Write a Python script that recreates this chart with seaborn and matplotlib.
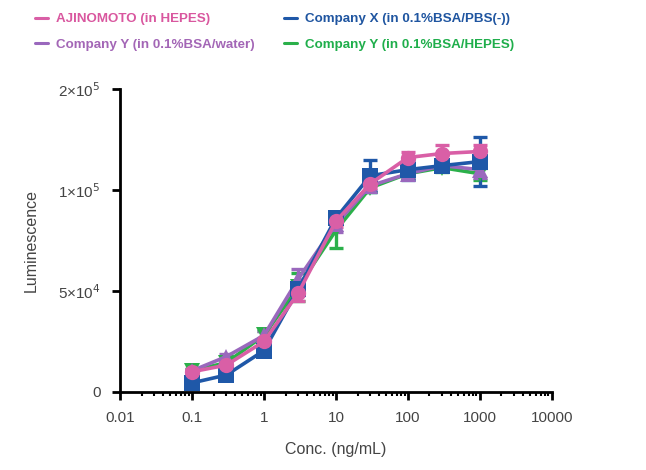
import matplotlib
matplotlib.use("Agg")
import matplotlib.pyplot as plt
from matplotlib.lines import Line2D
import numpy as np
import pandas as pd
import seaborn as sns

# ─── Data ────────────────────────────────────────────────────────────────────
conc = [0.1, 0.3, 1, 3, 10, 30, 100, 300, 1000]

ajinomoto       = [10.0e3, 13.3e3, 25.0e3, 49.0e3, 84.5e3, 103.0e3, 116.0e3, 118.0e3, 119.0e3]
ajinomoto_sd    = [1.0e3, 1.0e3, 1.5e3, 4.0e3, 3.0e3, 2.0e3, 2.5e3, 4.0e3, 3.0e3]
company_x       = [4.5e3, 8.4e3, 20.5e3, 51.0e3, 86.0e3, 107.0e3, 110.0e3, 112.0e3, 114.0e3]
company_x_sd    = [1.0e3, 1.0e3, 1.5e3, 3.0e3, 3.0e3, 8.0e3, 5.0e3, 2.0e3, 12.0e3]
company_y_water = [10.5e3, 17.5e3, 28.0e3, 56.0e3, 83.0e3, 102.0e3, 108.0e3, 112.0e3, 110.0e3]
company_y_water_sd = [1.0e3, 1.5e3, 2.0e3, 5.0e3, 4.0e3, 2.0e3, 2.5e3, 2.0e3, 4.0e3]
company_y_hepes = [10.5e3, 14.5e3, 28.0e3, 52.0e3, 80.0e3, 101.0e3, 108.0e3, 111.0e3, 108.0e3]
company_y_hepes_sd = [1.0e3, 1.0e3, 2.0e3, 7.0e3, 9.0e3, 2.0e3, 2.0e3, 2.0e3, 3.0e3]

labels = ["AJINOMOTO (in HEPES)", "Company Y (in 0.1%BSA/water)",
          "Company X (in 0.1%BSA/PBS(-))", "Company Y (in 0.1%BSA/HEPES)"]
y_ticks = [0, 5e4, 1e5, 1.5e5]
y_ticklabels = ["0", "5×10$^4$", "1×10$^5$", "2×10$^5$"]
x_ticks = [0.01, 0.1, 1, 10, 100, 1000, 10000]
x_ticklabels = ["0.01", "0.1", "1", "10", "100", "1000", "10000"]

# ─── Styles ──────────────────────────────────────────────────────────────────
series = {
    labels[3]: (company_y_hepes, company_y_hepes_sd, "#2bb04a", "v", "#1fae4b"),
    labels[1]: (company_y_water, company_y_water_sd, "#9a68bd", "^", "#a366b6"),
    labels[2]: (company_x, company_x_sd, "#1f58a8", "s", "#1f55a0"),
    labels[0]: (ajinomoto, ajinomoto_sd, "#d95fa6", "o", "#d9579f"),
}

rows = []
for name, (vals, sds, *_ ) in series.items():
    for c, v, s in zip(conc, vals, sds):
        rows.append({"conc": c, "lum": v, "sd": s, "sample": name})
df = pd.DataFrame(rows)

sns.set_theme(style="ticks")
plt.rcParams["font.family"] = ["Liberation Sans", "DejaVu Sans"]

fig = plt.figure(figsize=(6.46, 4.70), dpi=100)
ax = fig.add_axes([0.186, 0.166, 0.668, 0.645])

for name, (vals, sds, color, marker, _) in series.items():
    sub = df[df["sample"] == name]
    ax.errorbar(sub["conc"], sub["lum"], yerr=sub["sd"], fmt="none",
                ecolor=color, elinewidth=2.4, capsize=5, capthick=2.4, zorder=2)
    sns.lineplot(data=sub, x="conc", y="lum", ax=ax, color=color,
                 marker=marker, markersize=11, markeredgewidth=0,
                 linewidth=2.6, errorbar=None, zorder=3)

ax.set_xscale("log")
ax.set_xlim(0.01, 10000)
ax.set_ylim(0, 1.5e5)
ax.set_xticks(x_ticks)
ax.set_xticklabels(x_ticklabels)
ax.set_yticks(y_ticks)
ax.set_yticklabels(y_ticklabels)
ax.xaxis.set_minor_locator(matplotlib.ticker.LogLocator(base=10, subs=np.arange(2, 10)))
ax.xaxis.set_minor_formatter(matplotlib.ticker.NullFormatter())

sns.despine(ax=ax)
for side in ["left", "bottom"]:
    ax.spines[side].set_linewidth(2.0)
    ax.spines[side].set_color("black")
ax.tick_params(axis="both", which="major", length=6, width=2.0, color="black",
               labelsize=11, labelcolor="#444444", pad=8)
ax.tick_params(axis="x", which="minor", length=3, width=1.5, color="black")

ax.set_xlabel("Conc. (ng/mL)", fontsize=11.5, color="#444444", labelpad=12)
ax.set_ylabel("Luminescence", fontsize=11.5, color="#444444", labelpad=14)

# ─── Legend ──────────────────────────────────────────────────────────────────
handles = [Line2D([], [], color=series[l][2], linewidth=2.2) for l in labels]
leg = fig.legend(handles, labels, loc="upper left", bbox_to_anchor=(0.035, 0.998),
                 ncol=2, frameon=False, handlelength=1.0, handletextpad=0.6,
                 columnspacing=2.2, labelspacing=1.0,
                 prop={"family": ["Liberation Sans Narrow", "Liberation Sans", "DejaVu Sans"],
                       "weight": "bold", "size": 9.6})
for text, l in zip(leg.get_texts(), labels):
    text.set_color(series[l][4])

fig.savefig("out.png", dpi=100)
